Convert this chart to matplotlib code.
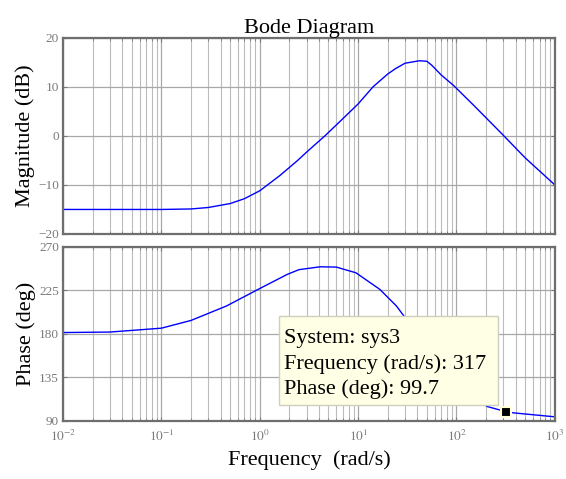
import matplotlib
matplotlib.use("Agg")
import matplotlib.pyplot as plt
from matplotlib.patches import Rectangle
from matplotlib.ticker import LogLocator, NullFormatter

# magnitude trace (rad/s, dB)
mag_f = [0.01, 0.03, 0.1, 0.2, 0.3, 0.5, 0.7, 1.0, 1.6, 2.4, 3.0, 4.6, 7.0, 10.0,
         14.2, 20.0, 24.0, 30.0, 42.0, 50.0, 56.0, 70.0, 93.0, 150.0, 290.0, 500.0, 1000.0]
mag_db = [-15.0, -15.0, -15.0, -14.9, -14.6, -13.8, -12.8, -11.2, -8.1, -5.1, -3.3, 0.0, 3.5, 6.5,
          10.0, 12.6, 13.7, 14.8, 15.3, 15.2, 14.4, 12.4, 10.3, 6.2, 0.4, -4.5, -10.0]

# phase trace (rad/s, deg)
ph_f = [0.01, 0.03, 0.1, 0.2, 0.46, 1.0, 1.9, 2.5, 4.1, 6.0, 9.5, 16.6, 24.5, 30.0,
        40.0, 60.0, 100.0, 150.0, 205.0, 317.0, 380.0, 1000.0]
ph_deg = [181.5, 182.0, 186.0, 194.0, 209.0, 227.0, 241.6, 246.5, 249.5, 249.2, 243.3, 226.2, 209.0, 197.0,
          178.0, 155.0, 131.0, 115.0, 105.0, 99.7, 98.4, 94.3]

tip_f, tip_ph = 317.0, 99.7
tip_lines = ["System: sys3", "Frequency (rad/s): 317", "Phase (deg): 99.7"]

mag_ticks = [-20, -10, 0, 10, 20]
ph_ticks = [90, 135, 180, 225, 270]
f_ticks = [1e-2, 1e-1, 1e0, 1e1, 1e2, 1e3]
f_labels = [r"$10^{-2}$", r"$10^{-1}$", r"$10^{0}$", r"$10^{1}$", r"$10^{2}$", r"$10^{3}$"]

plt.rcParams["font.family"] = ["Liberation Serif", "DejaVu Serif"]
plt.rcParams["mathtext.fontset"] = "stix"

FRAME = "#6e6e6e"
GRID = "#bcbcbc"
TICKC = "#7a7a7a"

fig = plt.figure(figsize=(5.66, 4.79), dpi=100)
ax1 = fig.add_axes([0.1113, 0.5115, 0.869, 0.4098])
ax2 = fig.add_axes([0.1113, 0.1211, 0.869, 0.3633])


def style(ax, yticks):
    ax.set_xscale("log")
    ax.set_xlim(1e-2, 1e3)
    ax.set_yticks(yticks)
    ax.set_ylim(yticks[0], yticks[-1])
    ax.xaxis.set_major_locator(LogLocator(base=10, numticks=10))
    ax.xaxis.set_minor_locator(LogLocator(base=10, subs=range(2, 10), numticks=100))
    ax.xaxis.set_minor_formatter(NullFormatter())
    ax.grid(True, which="major", axis="both", color="#a8a8a8", lw=0.9)
    ax.grid(True, which="minor", axis="x", color=GRID, lw=0.8)
    ax.set_axisbelow(True)
    ax.tick_params(which="both", direction="in", top=True, right=True,
                   colors=TICKC, labelsize=9.5, pad=3)
    ax.tick_params(which="major", length=3, width=0.8)
    ax.tick_params(which="minor", length=2, width=0.6)
    for s in ax.spines.values():
        s.set_color(FRAME)
        s.set_linewidth(1.6)


style(ax1, mag_ticks)
style(ax2, ph_ticks)

ax1.plot(mag_f, mag_db, color="#0000ff", lw=1.0)
ax1.set_xticklabels([])
ax1.set_ylabel("Magnitude (dB)", fontsize=16, labelpad=2)
ax1.set_title("Bode Diagram", fontsize=16, pad=2)

ax2.plot(ph_f, ph_deg, color="#0000ff", lw=1.0)
ax2.set_xticks(f_ticks)
ax2.set_xticklabels(f_labels)
ax2.tick_params(axis="x", labelsize=9.5, pad=6)
ax2.set_ylabel("Phase (deg)", fontsize=16, labelpad=2)
ax2.set_xlabel("Frequency  (rad/s)", fontsize=16, labelpad=4)

# datatip box
ax2.add_patch(Rectangle((0.439, 0.092), 0.445, 0.511, transform=ax2.transAxes,
                        facecolor="#ffffe6", edgecolor="#cfcfc0", lw=1.0, zorder=6))
for i, t in enumerate(tip_lines):
    ax2.text(0.450, 0.448 - i * 0.147, t, transform=ax2.transAxes, fontsize=16,
             color="black", ha="left", va="baseline", zorder=7)
ax2.plot([tip_f], [tip_ph], marker="s", ms=7, color="black",
         markeredgecolor="#ffffd8", mew=1.5, zorder=8, clip_on=False)

fig.savefig("out.png", dpi=100)
